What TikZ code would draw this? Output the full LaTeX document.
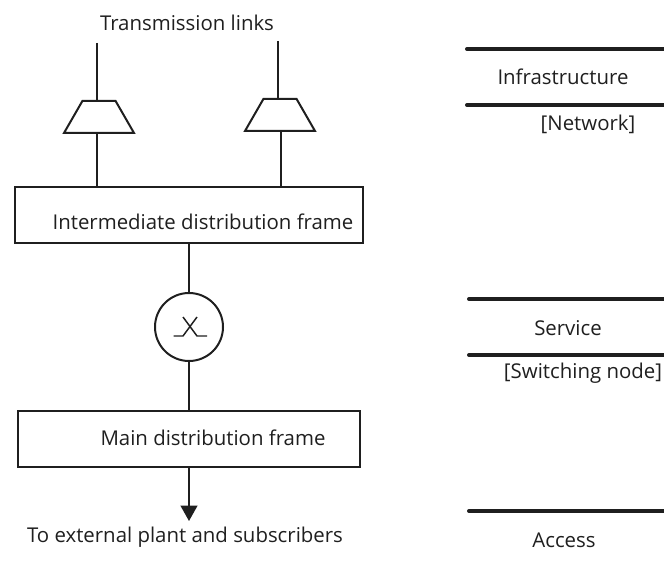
\documentclass[tikz,border=0pt]{standalone}
\usepackage{fontspec}
\setmainfont{Open Sans}
\usetikzlibrary{shapes.geometric,arrows.meta}
\tikzset{
  lbl/.style={inner sep=0pt,outer sep=0pt,text=black!88,font=\fontsize{15.3}{18}\selectfont},
  wire/.style={line width=1.5pt,draw=black!88},
  framebox/.style={draw=black!88,line width=1.5pt,inner sep=0pt,outer sep=0pt,minimum height=42pt,anchor=north west},
  mux/.style={draw=black!88,line width=1.5pt,trapezium,trapezium angle=61,trapezium stretches=true,minimum width=52.5pt,minimum height=24pt,inner sep=1pt,outer sep=0pt},
  band/.style={line width=3pt,line cap=round,draw=black!88},
}
\begin{document}
\begin{tikzpicture}[x=0.75pt,y=-0.75pt]
\useasboundingbox (0,0) rectangle (664,563);
% nodes
\node[lbl] (tx) at (187,23) {Transmission links};
\coordinate (inA) at (97,43);
\coordinate (inB) at (278,41);
\node[mux] (muxA) at (99,117) {};
\node[mux] (muxB) at (280,115) {};
\node[framebox,minimum width=261pt] (idf) at (15,187) {};
\node[lbl] (idft) at (203,222) {Intermediate distribution frame};
\node[draw=black!88,line width=1.5pt,circle,minimum size=51pt,inner sep=0pt,outer sep=0pt] (sw) at (189,327) {};
\node[framebox,minimum width=256.5pt] (mdf) at (18,411) {};
\node[lbl] (mdft) at (213,438) {Main distribution frame};
\node[lbl] (ext) at (185,537) {To external plant and subscribers};
\coordinate (arrowEnd) at (189,521);
% connectors
\draw[wire] (inA) -- (inA |- muxA.top side);
\draw[wire] (inB) -- (inB |- muxB.top side);
\draw[wire] (inA |- muxA.bottom side) -- (inA |- idf.north);
\coordinate (outB) at (281,131);
\draw[wire] (outB |- muxB.bottom side) -- (outB |- idf.north);
\draw[wire] (sw |- idf.south) -- (sw.north);
\draw[wire] (sw.south) -- (sw |- mdf.north);
\draw[wire,-{Triangle[length=11.5pt,width=12.5pt]}] (sw |- mdf.south) -- (arrowEnd);
% switch symbol
\draw[line width=1.1pt,draw=black!88] (173.5,336) -- (183,336) -- (197,317);
\draw[line width=1.1pt,draw=black!88] (207,336) -- (197,336) -- (183,317);
% right side
\coordinate (a1) at (467,49); \coordinate (a2) at (664,49);
\coordinate (b1) at (467,105); \coordinate (b2) at (664,105);
\coordinate (c1) at (469,299); \coordinate (c2) at (664,299);
\coordinate (d1) at (469,355); \coordinate (d2) at (664,355);
\coordinate (e1) at (469,511); \coordinate (e2) at (664,511);
\draw[band] (a1) -- (a2);
\draw[band] (b1) -- (b2);
\draw[band] (c1) -- (c2);
\draw[band] (d1) -- (d2);
\draw[band] (e1) -- (e2);
\node[lbl] (infra) at (563,77) {Infrastructure};
\node[lbl] (net) at (588,124) {[Network]};
\node[lbl] (svc) at (568,328) {Service};
\node[lbl] (swn) at (583,373) {[Switching node]};
\node[lbl] (acc) at (564,540) {Access};
\end{tikzpicture}
\end{document}
